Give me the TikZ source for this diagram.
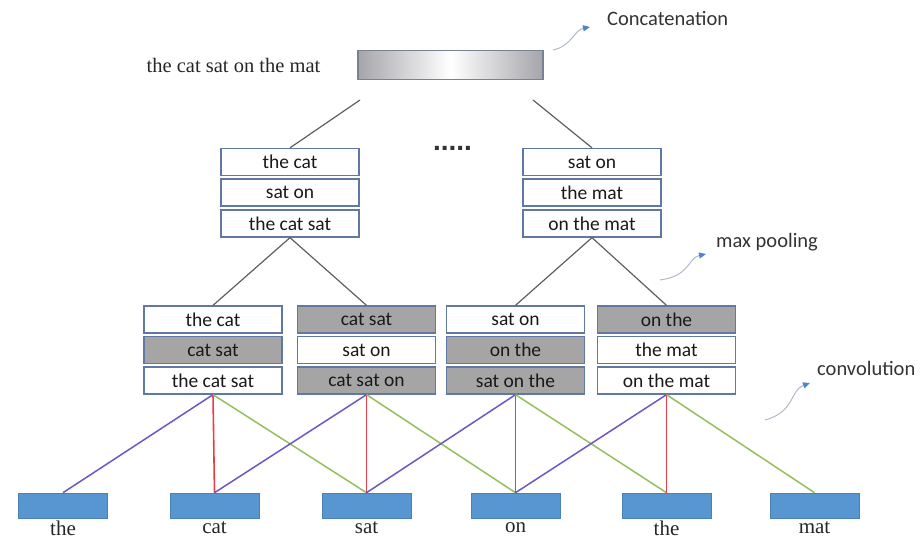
\documentclass[tikz,border=0pt]{standalone}
\usepackage{fontspec}
\setmainfont{Liberation Serif}
\newfontfamily\cali{Carlito}
\newfontfamily\lsans{Liberation Sans}
\usetikzlibrary{arrows.meta}
\definecolor{bordc}{RGB}{95,120,165}
\definecolor{grayfill}{RGB}{165,165,165}
\definecolor{wordblue}{RGB}{88,150,210}
\definecolor{purp}{RGB}{110,85,200}
\definecolor{redl}{RGB}{235,60,70}
\definecolor{greenl}{RGB}{150,190,90}
\definecolor{treel}{RGB}{95,95,95}
\definecolor{curvec}{RGB}{175,185,200}
\definecolor{tipc}{RGB}{80,130,205}
\definecolor{barbord}{RGB}{120,130,150}
\definecolor{bargray}{RGB}{165,165,170}
\tikzset{
  cell/.style={draw=bordc, line width=1.3pt, minimum width=138pt, minimum height=27pt, inner sep=0pt, font=\cali\fontsize{19.5}{19.5}\selectfont, text=black!90},
  wcell/.style={cell, fill=white},
  gcell/.style={cell, fill=grayfill},
  wordbox/.style={draw=wordblue!85!black, fill=wordblue, line width=0.6pt, minimum width=89pt, minimum height=25pt, inner sep=0pt},
  wordlab/.style={font=\fontsize{21}{21}\selectfont, text=black!85, inner sep=0pt},
  tree/.style={draw=treel, line width=1.2pt},
  pl/.style={draw=purp, line width=1.5pt},
  rl/.style={draw=redl, line width=1.6pt},
  gl/.style={draw=greenl, line width=1.5pt},
  note/.style={font=\cali\fontsize{20.5}{20.5}\selectfont, text=black!80, anchor=west, inner sep=0pt},
  pointer/.style={draw=curvec, line width=1pt, -{Triangle[length=7pt,width=6pt,fill=tipc,color=tipc]}},
}
\begin{document}
\begin{tikzpicture}[x=1pt,y=-1pt]
\useasboundingbox (0,0) rectangle (920,541);
% top
\node[font=\fontsize{20.5}{20.5}\selectfont, text=black!85, inner sep=0pt] (sent) at (233.5,65) {the cat sat on the mat};
\node[draw=barbord, line width=1.2pt, left color=bargray, right color=bargray, middle color=white, minimum width=185pt, minimum height=29pt, inner sep=0pt] (bar) at (450.5,65) {};
\node[note] (concat) at (607,18) {Concatenation};
\coordinate (cs) at (553,50);
\draw[pointer] (cs) .. controls (572,46) and (574,30) .. (590,27);
% pooling boxes
\node[wcell] (pl1) at (290,162) {the cat};
\node[wcell] (pl2) at (290,192.5) {sat on};
\node[wcell] (pl3) at (290,223.5) {the cat sat};
\node[wcell] (pr1) at (592,162) {sat on};
\node[wcell] (pr2) at (592,192.5) {the mat};
\node[wcell] (pr3) at (592,223.5) {on the mat};
\node[font=\lsans\bfseries\fontsize{28}{28}\selectfont, inner sep=0pt, text=black!80] (dots) at (452.5,148) {.....};
\coordinate (tl) at (360,100);
\coordinate (tr) at (533,100);
\draw[tree] (tl) -- (pl1.north);
\draw[tree] (tr) -- (pr1.north);
% max pooling label
\node[note] (maxp) at (716,242) {max pooling};
\coordinate (ms) at (660,280);
\draw[pointer] (ms) .. controls (690,276) and (688,258) .. (706,254);
% conv boxes
\node[wcell] (a1) at (213,319.5) {the cat};
\node[gcell] (a2) at (213,350) {cat sat};
\node[wcell] (a3) at (213,380.5) {the cat sat};
\node[gcell] (b1) at (366.5,319.5) {cat sat};
\node[wcell] (b2) at (366.5,350) {sat on};
\node[gcell] (b3) at (366.5,380.5) {cat sat on};
\node[wcell] (c1) at (515.5,319.5) {sat on};
\node[gcell] (c2) at (515.5,350) {on the};
\node[gcell] (c3) at (515.5,380.5) {sat on the};
\node[gcell] (d1) at (666.5,319.5) {on the};
\node[wcell] (d2) at (666.5,350) {the mat};
\node[wcell] (d3) at (666.5,380.5) {on the mat};
\draw[tree] (pl3.south) -- (a1.north);
\draw[tree] (pl3.south) -- (b1.north);
\draw[tree] (pr3.south) -- (c1.north);
\draw[tree] (pr3.south) -- (d1.north);
% convolution label
\node[note] (convl) at (817,368) {convolution};
\coordinate (cvs) at (765,420);
\draw[pointer] (cvs) .. controls (795,412) and (790,390) .. (810,383);
% words
\node[wordbox] (w1) at (63,505.5) {};
\node[wordbox] (w2) at (214.5,505.5) {};
\node[wordbox] (w3) at (366.5,505.5) {};
\node[wordbox] (w4) at (515.5,505.5) {};
\node[wordbox] (w5) at (666.5,505.5) {};
\node[wordbox] (w6) at (814.5,505.5) {};
\node[wordlab] (l1) at (63,528) {the};
\node[wordlab] (l2) at (214.5,528) {cat};
\node[wordlab] (l3) at (366.5,528) {sat};
\node[wordlab] (l4) at (515.5,528) {on};
\node[wordlab] (l5) at (666.5,528) {the};
\node[wordlab] (l6) at (814.5,528) {mat};
% convolution connectors
\draw[pl] (a3.south) -- (w1.north);
\draw[rl] (a3.south) -- (w2.north);
\draw[gl] (a3.south) -- (w3.north);
\draw[pl] (b3.south) -- (w2.north);
\draw[rl] (b3.south) -- (w3.north);
\draw[gl] (b3.south) -- (w4.north);
\draw[pl] (c3.south) -- (w3.north);
\draw[rl] (c3.south) -- (w4.north);
\draw[gl] (c3.south) -- (w5.north);
\draw[pl] (d3.south) -- (w4.north);
\draw[rl] (d3.south) -- (w5.north);
\draw[gl] (d3.south) -- (w6.north);
\end{tikzpicture}
\end{document}
